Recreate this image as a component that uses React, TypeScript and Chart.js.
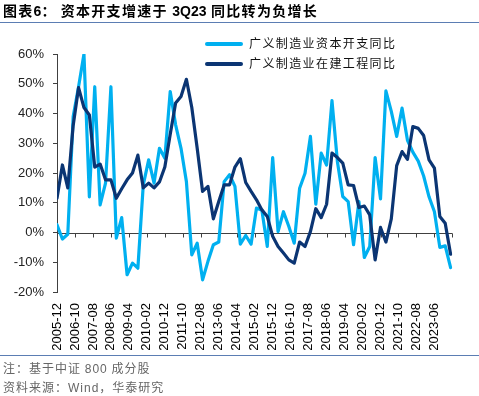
import React, { useEffect, useRef } from "react";
import { Chart, registerables } from "chart.js";

Chart.register(...registerables);

// x-axis tick labels (every 10 months, starting 2005-12)
const xTickLabels = [
  "2005-12", "2006-10", "2007-08", "2008-06", "2009-04", "2010-02", "2010-12",
  "2011-10", "2012-08", "2013-06", "2014-04", "2015-02", "2015-12", "2016-10",
  "2017-08", "2018-06", "2019-04", "2020-02", "2020-12", "2021-10", "2022-08",
  "2023-06",
];
const MONTHS_PER_TICK = 10;
const MONTHS_PER_POINT = 3; // quarterly observations
const AXIS_MAX_MONTHS = 220;

const seriesNames = ["广义制造业资本开支同比", "广义制造业在建工程同比"];

// 广义制造业资本开支同比 (%)
const capexYoY = [
  2.6, -2.2, -0.6, 39, 49, 60, 12, 49, 9.3, 16.6,
  49, -1.9, 5, -14.2, -10.3, -12, 16, 24.4, 16.6, 28.3,
  25, 47.4, 36.2, 28.3, 17.1, -7.5, -3.6, -15.9, -9.7, -4.1,
  -3.2, 17.1, 19.4, 15.5, -3.9, -1, -3.9, 8.2, 7.5, -4.7,
  25.2, 0.3, 7, 2, -3.6, 14.9, 19.9, 32.3, 9.5, 26.7,
  22.7, 44.3, 23.9, 12.1, 10.4, -4.1, 10.4, -8.4, -4.7, 25.2,
  11.3, 47.6, 40.7, 32.3, 41.8, 31, 27, 24, 19, 12,
  7, -5, -4.5, -11.8,
];

// 广义制造业在建工程同比 (%)
const cipYoY = [
  11.5, 22.7, 15, 36, 48.7, 42, 39.5, 22, 23, 17.7,
  17.7, 11.5, 14.7, 17.7, 20, 26, 15, 16.6, 15, 17,
  22, 33, 43.5, 45.7, 51.5, 42, 28.3, 13.8, 15.5, 4.6,
  10.4, 16, 16, 22, 24.8, 16.8, 13.8, 11, 7.6, 5.4,
  -1.3, -4.7, -6.9, -9.2, -10.3, -3.2, -4.7, 0.3, 8, 5,
  9.5, 26.7, 25.2, 23.3, 16, 15.8, 8.4, 8.9, 5.9, -9.2,
  1.7, -3.2, 4.6, 22.5, 27.2, 24.6, 35.6, 35, 32.6, 24.4,
  21.6, 5.4, 3.1, -7.3,
];

const Y_MIN = -20;
const Y_MAX = 60;
const Y_STEP = 10;

const LIGHT = "#00B0F0";
const DARK = "#0B3573";
const AXIS = "#404040";
const RULE = "#5B7DB3";

const zeroAxisPlugin = {
  id: "zeroAxis",
  beforeDatasetsDraw(chart: any) {
    const { ctx, chartArea, scales } = chart;
    const x = scales.x;
    const y = scales.y;
    const y0 = Math.round(y.getPixelForValue(0)) + 0.5;
    ctx.save();
    ctx.strokeStyle = AXIS;
    ctx.lineWidth = 1;
    ctx.beginPath();
    ctx.moveTo(chartArea.left, y0);
    ctx.lineTo(chartArea.right, y0);
    x.ticks.forEach((t: any) => {
      const px = Math.round(x.getPixelForValue(t.value)) + 0.5;
      ctx.moveTo(px, y0);
      ctx.lineTo(px, y0 + 4);
    });
    ctx.stroke();
    ctx.restore();
  },
};

export default function App() {
  const ref = useRef<HTMLCanvasElement>(null);

  useEffect(() => {
    document.body.style.margin = "0";
    const canvas = ref.current;
    if (!canvas) return;
    const toPoints = (arr: number[]) =>
      arr.map((v, i) => ({ x: i * MONTHS_PER_POINT, y: v }));

    const chart = new Chart(canvas, {
      type: "line",
      data: {
        datasets: [
          {
            label: seriesNames[0],
            data: toPoints(capexYoY),
            borderColor: LIGHT,
            backgroundColor: LIGHT,
            borderWidth: 3.2,
            pointRadius: 0,
            tension: 0,
            borderJoinStyle: "round",
            borderCapStyle: "round",
            order: 1,
          },
          {
            label: seriesNames[1],
            data: toPoints(cipYoY),
            borderColor: DARK,
            backgroundColor: DARK,
            borderWidth: 3.2,
            pointRadius: 0,
            tension: 0,
            borderJoinStyle: "round",
            borderCapStyle: "round",
            order: 0,
          },
        ],
      },
      options: {
        animation: false,
        responsive: false,
        devicePixelRatio: 1,
        layout: { padding: { left: 0, top: 54, right: 20, bottom: 44 } },
        plugins: {
          legend: { display: false },
          tooltip: { enabled: false },
        },
        scales: {
          x: {
            type: "linear",
            min: 0,
            max: AXIS_MAX_MONTHS,
            grid: { display: false, drawTicks: false },
            border: { display: false },
            afterFit: (scale: any) => {
              scale.height = 60;
            },
            ticks: {
              stepSize: MONTHS_PER_TICK,
              autoSkip: false,
              maxRotation: 90,
              minRotation: 90,
              padding: 11,
              color: "#000",
              font: { family: "'Liberation Sans', Arial, sans-serif", size: 13 },
              callback: (value: any) => {
                const k = Math.round(Number(value) / MONTHS_PER_TICK);
                return xTickLabels[k] ?? "";
              },
            },
          },
          y: {
            min: Y_MIN,
            max: Y_MAX,
            grid: {
              drawOnChartArea: false,
              drawTicks: true,
              tickLength: 4,
              color: AXIS,
            },
            border: { display: true, color: AXIS, width: 1 },
            afterFit: (scale: any) => {
              scale.width = 57;
            },
            ticks: {
              stepSize: Y_STEP,
              padding: 9,
              color: "#222",
              font: { family: "'Liberation Sans', Arial, sans-serif", size: 13 },
              callback: (value: any) => `${value}%`,
            },
          },
        },
      },
      plugins: [zeroAxisPlugin],
    } as any);

    return () => chart.destroy();
  }, []);

  const cjk = "'Noto Sans CJK SC', 'Noto Sans', sans-serif";
  const latin = "'Liberation Sans', Arial, sans-serif";

  return (
    <div
      style={{
        position: "relative",
        width: 479,
        height: 396,
        overflow: "hidden",
        background: "#fff",
      }}
    >
      <canvas
        ref={ref}
        width={479}
        height={396}
        style={{ position: "absolute", left: 0, top: 0, width: 479, height: 396 }}
      />
      {/* Title */}
      <div
        style={{
          position: "absolute",
          left: 3,
          top: 2,
          fontSize: 14,
          lineHeight: "16px",
          fontWeight: 700,
          fontFamily: cjk,
          color: "#000",
          letterSpacing: 1.3,
          whiteSpace: "nowrap",
        }}
      >
        <span>图表</span>
        <span style={{ fontFamily: latin, letterSpacing: 0 }}>6</span>
        <span>：</span>
        <span style={{ marginLeft: 4 }}>资本开支增速于 </span>
        <span style={{ fontFamily: latin, letterSpacing: 0 }}>3Q23</span>
        <span> 同比转为负增长</span>
      </div>
      <div
        style={{
          position: "absolute",
          left: 0,
          top: 22,
          width: 479,
          height: 0,
          borderTop: `1.3px solid ${RULE}`,
        }}
      />
      {/* Legend */}
      {[LIGHT, DARK].map((c, i) => (
        <div key={i}>
          <div
            style={{
              position: "absolute",
              left: 205,
              top: 41.5 + i * 20,
              width: 38,
              height: 4,
              borderRadius: 2,
              background: c,
            }}
          />
          <div
            style={{
              position: "absolute",
              left: 249,
              top: 35 + i * 20,
              fontSize: 12,
              lineHeight: "16px",
              fontFamily: cjk,
              color: "#111",
              letterSpacing: 1.4,
              whiteSpace: "nowrap",
            }}
          >
            {seriesNames[i]}
          </div>
        </div>
      ))}
      {/* Bottom rule and notes */}
      <div
        style={{
          position: "absolute",
          left: 0,
          top: 355,
          width: 479,
          height: 0,
          borderTop: `1.3px solid ${RULE}`,
        }}
      />
      <div
        style={{
          position: "absolute",
          left: 3,
          top: 360,
          fontSize: 12,
          lineHeight: "16px",
          fontFamily: cjk,
          color: "#666",
          letterSpacing: 1,
          whiteSpace: "nowrap",
        }}
      >
        注：基于中证 <span style={{ fontFamily: latin }}>800</span> 成分股
      </div>
      <div
        style={{
          position: "absolute",
          left: 3,
          top: 379,
          fontSize: 12,
          lineHeight: "16px",
          fontFamily: cjk,
          color: "#666",
          letterSpacing: 1,
          whiteSpace: "nowrap",
        }}
      >
        资料来源：<span style={{ fontFamily: latin }}>Wind</span>，华泰研究
      </div>
    </div>
  );
}
